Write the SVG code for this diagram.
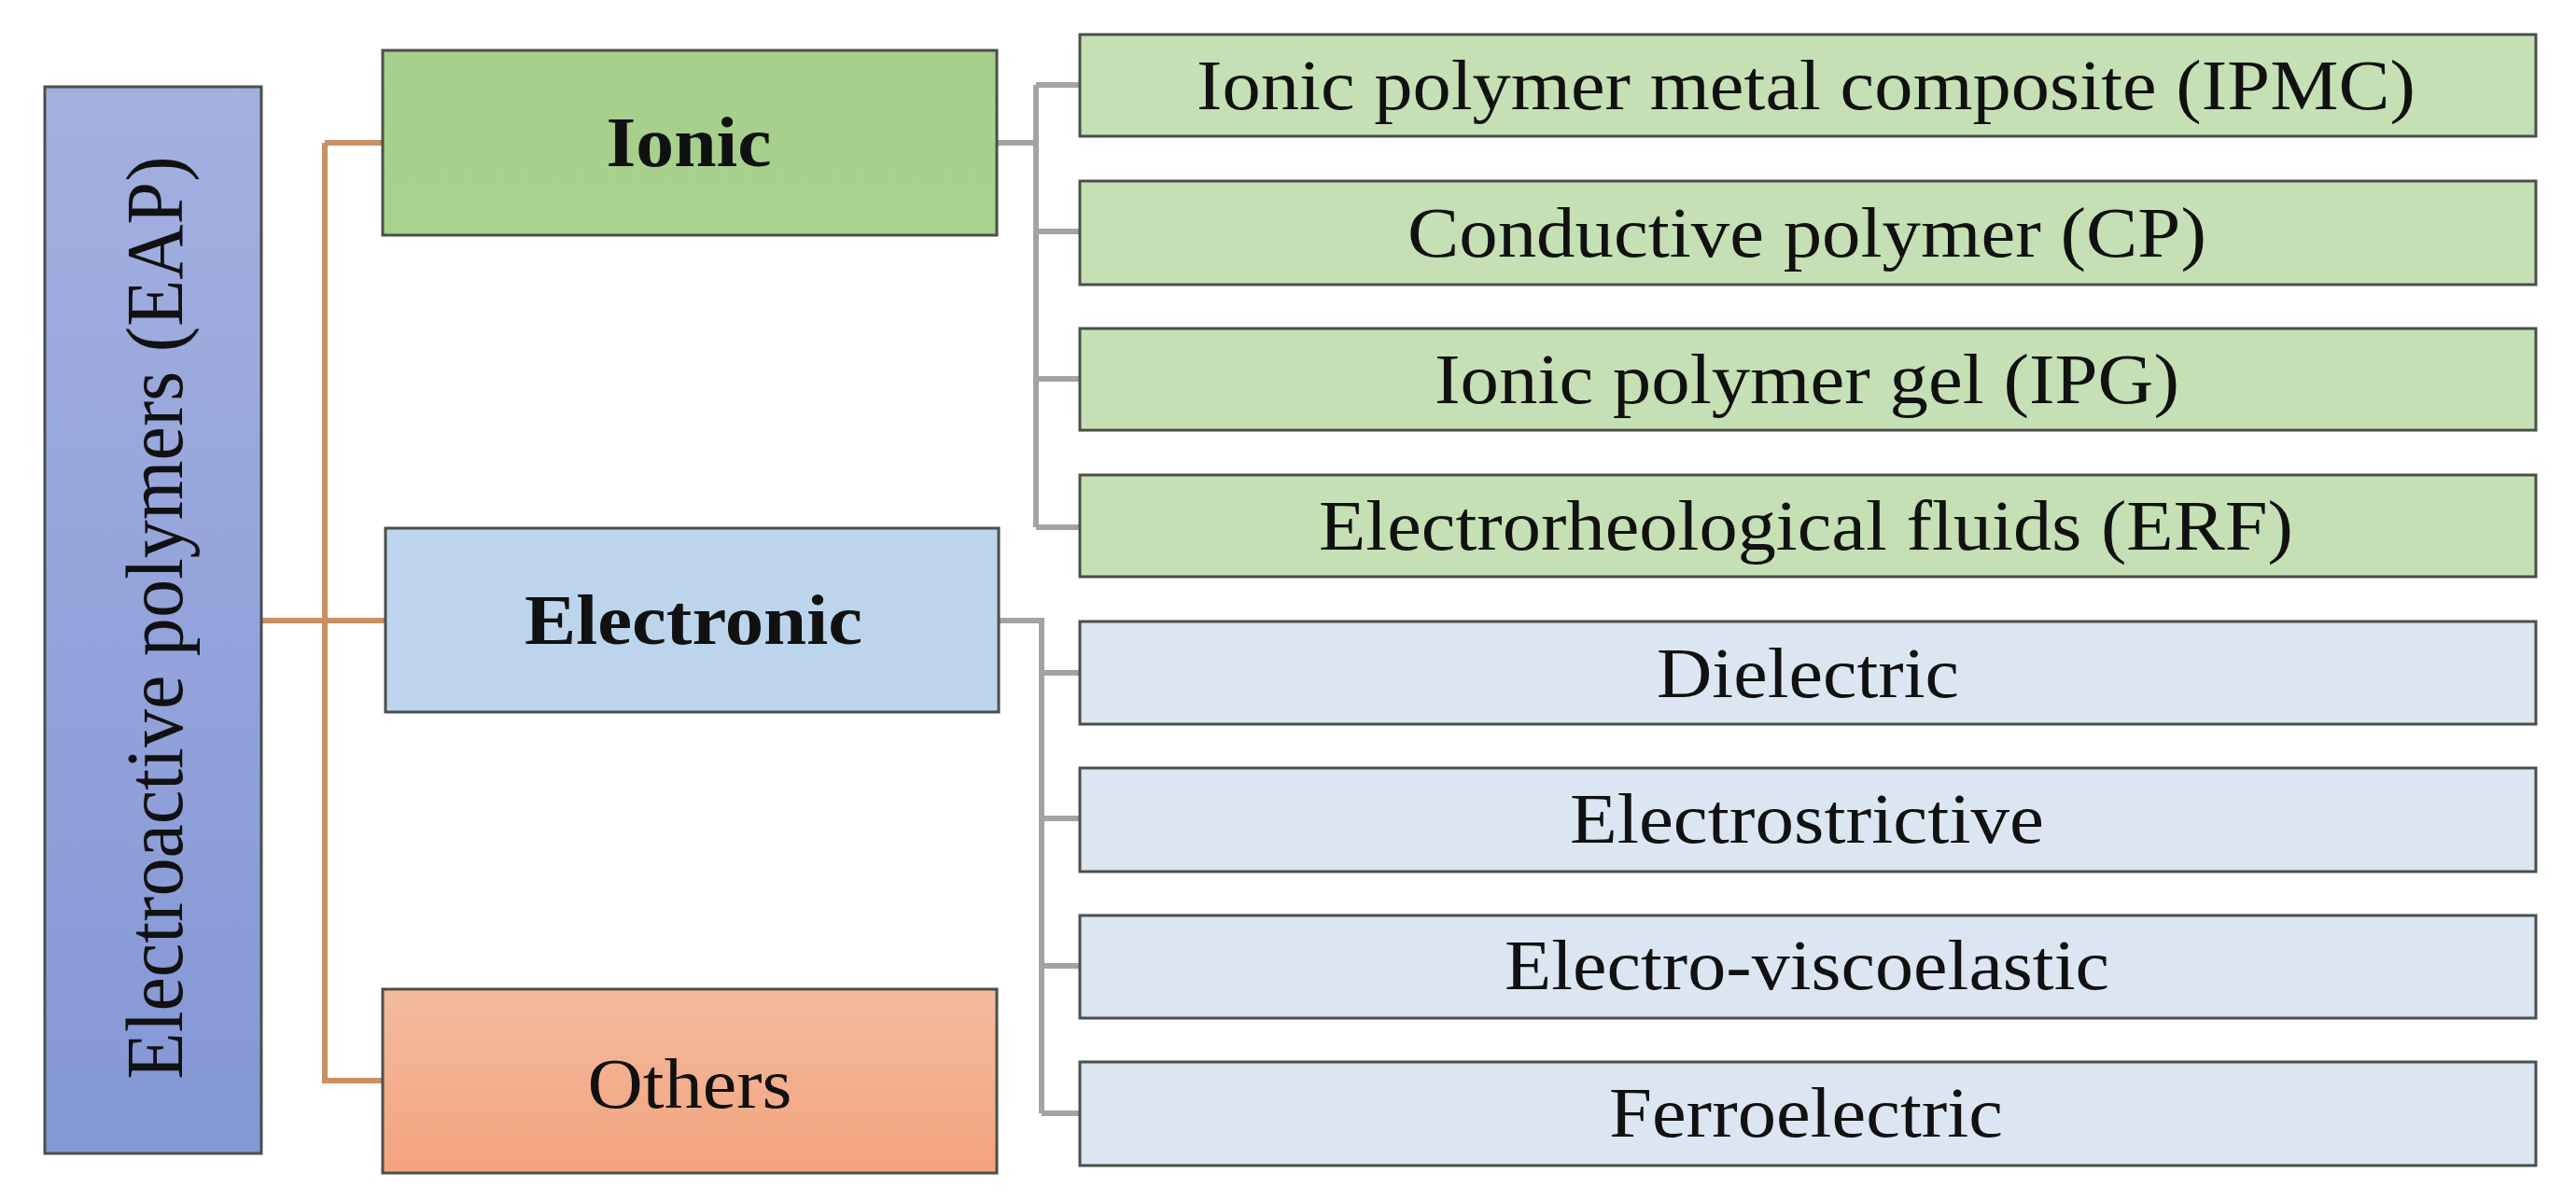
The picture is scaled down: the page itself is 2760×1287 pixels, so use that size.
<svg xmlns="http://www.w3.org/2000/svg" width="2760" height="1287" viewBox="0 0 2760 1287">
<defs>
<linearGradient id="gEap" x1="0" y1="0" x2="0" y2="1"><stop offset="0" stop-color="#a3b0e0"/><stop offset="1" stop-color="#8497d6"/></linearGradient>
<linearGradient id="gOth" x1="0" y1="0" x2="0" y2="1"><stop offset="0" stop-color="#f2bb9f"/><stop offset="1" stop-color="#f3a37d"/></linearGradient>
<linearGradient id="gIon" x1="0" y1="0" x2="0" y2="1"><stop offset="0" stop-color="#a6cf8b"/><stop offset="1" stop-color="#a9d18e"/></linearGradient>
<style>
.t{font-family:"Liberation Serif","Times New Roman",serif;font-size:77px;fill:#111;text-anchor:middle}
.b{font-weight:bold}
.box{stroke:#4a4f4a;stroke-width:3}
.gc{fill:#c5e0b4}
.bc{fill:#dce6f2}
.og{fill:none;stroke:#c89063;stroke-width:6}
.gr{fill:none;stroke:#a3a3a3;stroke-width:6}
</style>
</defs>
<rect width="2760" height="1287" fill="#ffffff"/>
<g id="connectors">
<path class="og" d="M348,153 H410 M348,153 V1158 H410 M281,665 H413"/>
<path class="gr" d="M1068,153 H1110 M1110,91 V565 M1110,91 H1157 M1110,248 H1157 M1110,406 H1157 M1110,565 H1157"/>
<path class="gr" d="M1070,665 H1116 V1193 M1116,721 H1157 M1116,877 H1157 M1116,1035 H1157 M1116,1193 H1157"/>
</g>
<g id="eap">
<rect class="box" x="48" y="93" width="232" height="1143" fill="url(#gEap)" stroke="#3d4766"/>
<text class="t" transform="translate(195,662) rotate(-90)" font-size="86" textLength="989" lengthAdjust="spacingAndGlyphs" style="font-size:86px">Electroactive polymers (EAP)</text>
</g>
<g id="ionic">
<rect class="box" x="410" y="54" width="658" height="198" fill="url(#gIon)"/>
<text class="t b" x="738" y="178" textLength="177" lengthAdjust="spacingAndGlyphs">Ionic</text>
</g>
<g id="electronic">
<rect class="box" x="413" y="566" width="657" height="197" fill="#bcd5ec"/>
<text class="t b" x="743" y="690" textLength="362" lengthAdjust="spacingAndGlyphs">Electronic</text>
</g>
<g id="others">
<rect class="box" x="410" y="1060" width="658" height="197" fill="url(#gOth)" stroke="#5a3020"/>
<text class="t" x="739" y="1187" textLength="219" lengthAdjust="spacingAndGlyphs">Others</text>
</g>
<g id="ipmc">
<rect class="box gc" x="1157" y="37" width="1560" height="109"/>
<text class="t" x="1935" y="117" textLength="1306" lengthAdjust="spacingAndGlyphs">Ionic polymer metal composite (IPMC)</text>
</g>
<g id="cp">
<rect class="box gc" x="1157" y="194" width="1560" height="111"/>
<text class="t" x="1936" y="275" textLength="856" lengthAdjust="spacingAndGlyphs">Conductive polymer (CP)</text>
</g>
<g id="ipg">
<rect class="box gc" x="1157" y="352" width="1560" height="109"/>
<text class="t" x="1936" y="432" textLength="798" lengthAdjust="spacingAndGlyphs">Ionic polymer gel (IPG)</text>
</g>
<g id="erf">
<rect class="box gc" x="1157" y="509" width="1560" height="109"/>
<text class="t" x="1935" y="589" textLength="1044" lengthAdjust="spacingAndGlyphs">Electrorheological fluids (ERF)</text>
</g>
<g id="dielectric">
<rect class="box bc" x="1157" y="666" width="1560" height="110"/>
<text class="t" x="1937" y="747" textLength="324" lengthAdjust="spacingAndGlyphs">Dielectric</text>
</g>
<g id="electrostrictive">
<rect class="box bc" x="1157" y="823" width="1560" height="111"/>
<text class="t" x="1936" y="903" textLength="508" lengthAdjust="spacingAndGlyphs">Electrostrictive</text>
</g>
<g id="electroviscoelastic">
<rect class="box bc" x="1157" y="981" width="1560" height="110"/>
<text class="t" x="1936" y="1060" textLength="648" lengthAdjust="spacingAndGlyphs">Electro-viscoelastic</text>
</g>
<g id="ferroelectric">
<rect class="box bc" x="1157" y="1138" width="1560" height="111"/>
<text class="t" x="1935" y="1218" textLength="422" lengthAdjust="spacingAndGlyphs">Ferroelectric</text>
</g>
</svg>
